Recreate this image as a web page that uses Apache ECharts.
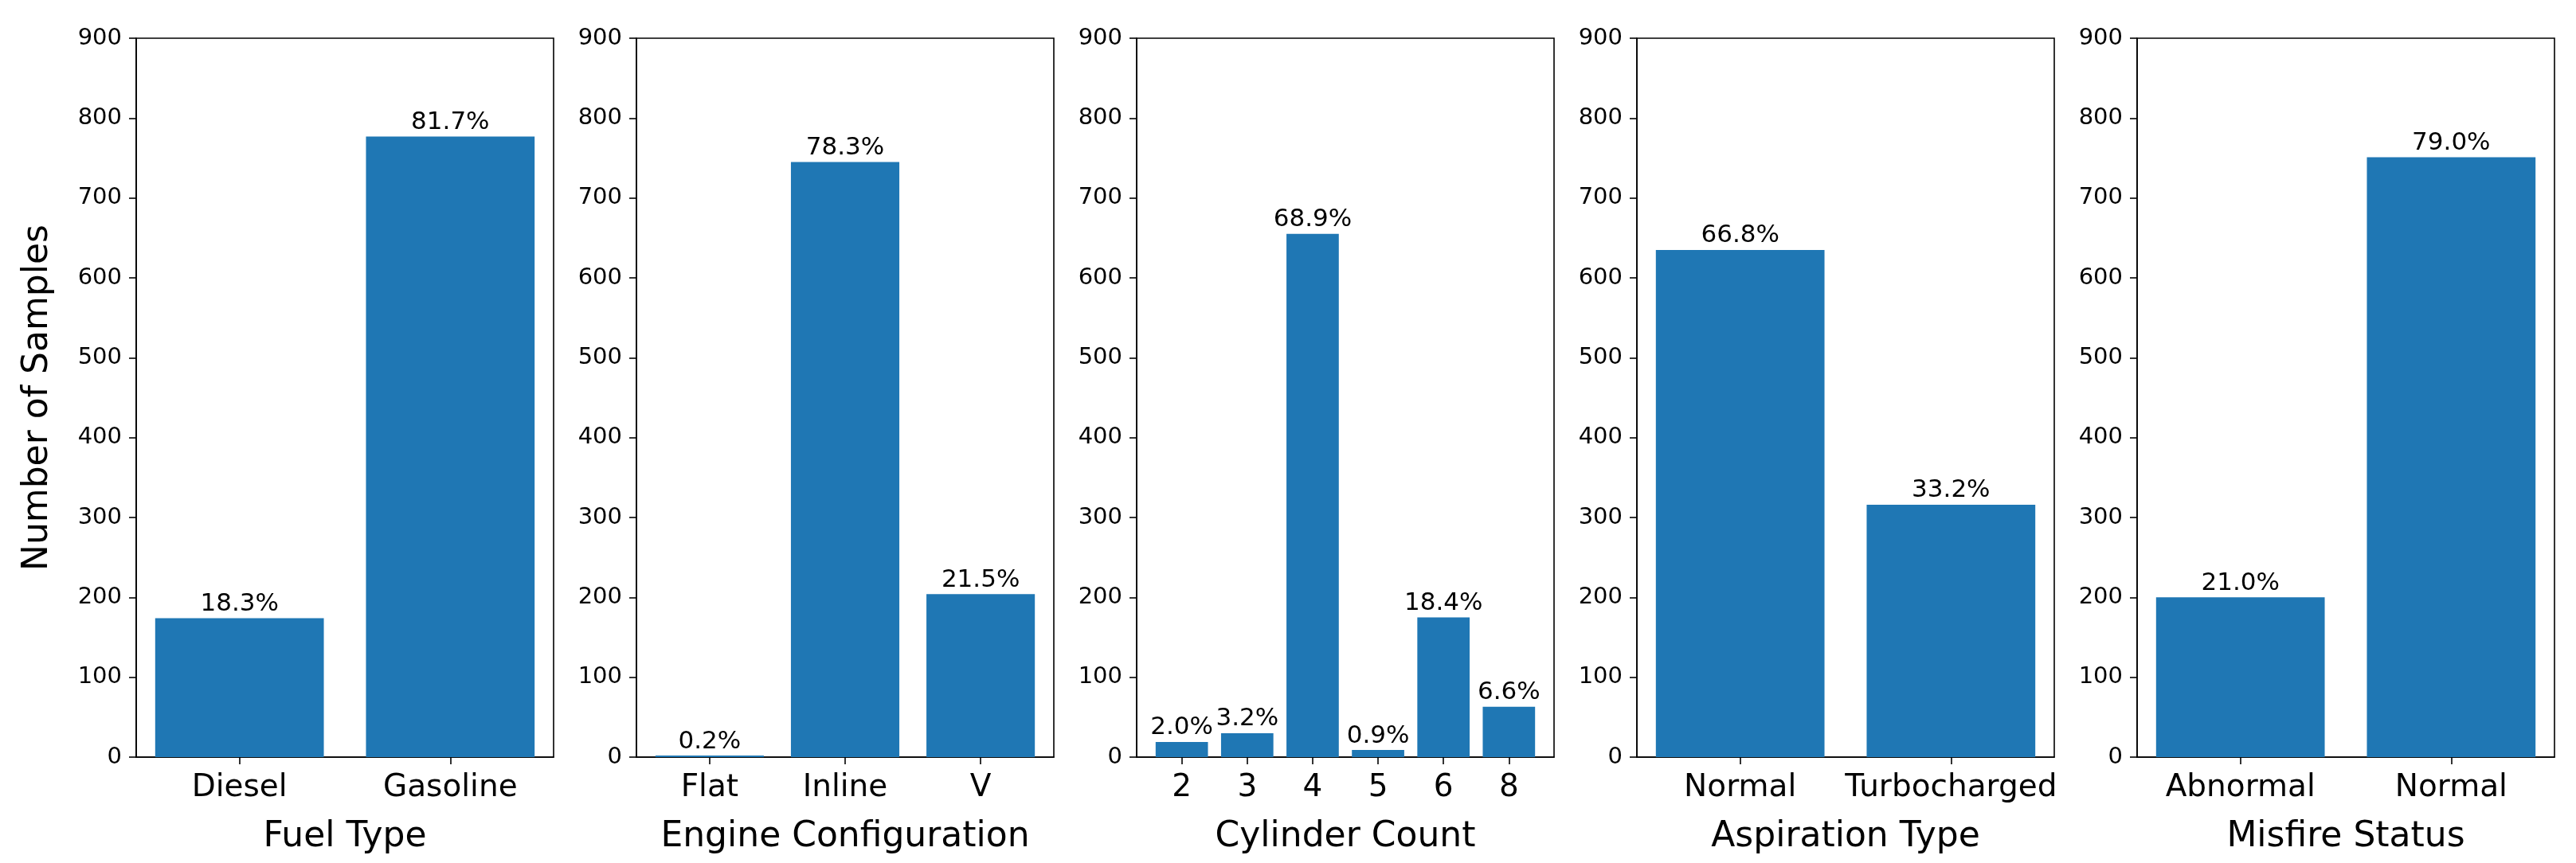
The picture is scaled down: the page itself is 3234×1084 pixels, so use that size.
<!DOCTYPE html>
<html>
<head>
<meta charset="utf-8">
<script src="https://cdn.jsdelivr.net/npm/echarts@6/dist/echarts.min.js"></script>
<style>
  html, body { margin: 0; padding: 0; background: #fff; }
  #chart { width: 3234px; height: 1084px; }
</style>
</head>
<body>
<div id="chart"></div>
<script>
// ---- Data ----
const fuelCats = ['Diesel', 'Gasoline'];
const fuelVals = [174, 777];

const engineCats = ['Flat', 'Inline', 'V'];
const engineVals = [2, 745, 204];

const cylCats = ['2', '3', '4', '5', '6', '8'];
const cylVals = [19, 30, 655, 9, 175, 63];

const aspCats = ['Normal', 'Turbocharged'];
const aspVals = [635, 316];

const misCats = ['Abnormal', 'Normal'];
const misVals = [200, 751];

const panelNames = ['Fuel Type', 'Engine Configuration', 'Cylinder Count', 'Aspiration Type', 'Misfire Status'];
const yTicks = [0, 100, 200, 300, 400, 500, 600, 700, 800, 900];
const yAxisName = 'Number of Samples';

// ---- Build ----
const panels = [
  [fuelCats, fuelVals],
  [engineCats, engineVals],
  [cylCats, cylVals],
  [aspCats, aspVals],
  [misCats, misVals]
];

const FONT = 'DejaVu Sans';
const GRID_LEFT0 = 171, GRID_STEP = 628, GRID_W = 524, GRID_TOP = 48, GRID_H = 903;

const grids = [], xAxes = [], yAxes = [], series = [];
panels.forEach((p, i) => {
  const cats = p[0], vals = p[1];
  const n = cats.length;
  const r = n - 0.2;
  const xmin = -0.4 - 0.05 * r;
  const xmax = n - 1 + 0.4 + 0.05 * r;
  const total = vals.reduce((a, b) => a + b, 0);
  const idx = cats.map((c, k) => k);
  const barW = 0.8 * GRID_W / (xmax - xmin);

  grids.push({
    left: GRID_LEFT0 + i * GRID_STEP, top: GRID_TOP, width: GRID_W, height: GRID_H,
    show: true, borderColor: '#000', borderWidth: 1.6, backgroundColor: 'transparent'
  });
  xAxes.push({
    type: 'value', gridIndex: i, min: xmin, max: xmax,
    name: panelNames[i], nameLocation: 'middle', nameGap: 79,
    nameTextStyle: { fontSize: 44, fontFamily: FONT, color: '#000' },
    axisLine: { show: true, onZero: false, lineStyle: { color: '#000', width: 1.6 } },
    axisTick: { show: true, length: 9, customValues: idx, lineStyle: { color: '#000', width: 1.6 } },
    axisLabel: {
      show: true, customValues: idx, margin: 19,
      fontSize: 39, fontFamily: FONT, color: '#000',
      formatter: v => cats[Math.round(v)]
    },
    splitLine: { show: false }
  });
  yAxes.push({
    type: 'value', gridIndex: i, min: 0, max: 900, interval: 100,
    name: i === 0 ? yAxisName : '', nameLocation: 'middle', nameGap: 101,
    nameTextStyle: { fontSize: 44, fontFamily: FONT, color: '#000' },
    axisLine: { show: true, onZero: false, lineStyle: { color: '#000', width: 1.6 } },
    axisTick: { show: true, length: 9, lineStyle: { color: '#000', width: 1.6 } },
    axisLabel: { show: true, margin: 18, fontSize: 29, fontFamily: FONT, color: '#000',
      formatter: v => (yTicks.indexOf(v) >= 0 ? String(v) : '') },
    splitLine: { show: false }
  });
  series.push({
    type: 'bar', xAxisIndex: i, yAxisIndex: i,
    barWidth: barW,
    data: vals.map((v, k) => [k, v]),
    itemStyle: { color: '#1f77b4' },
    label: {
      show: true, position: 'top', distance: 2,
      fontSize: 31, fontFamily: FONT, color: '#000',
      formatter: prm => (prm.value[1] / total * 100).toFixed(1) + '%'
    },
    animation: false
  });
});

const chart = echarts.init(document.getElementById('chart'), null, { renderer: 'canvas' });
chart.setOption({
  backgroundColor: '#fff',
  animation: false,
  grid: grids,
  xAxis: xAxes,
  yAxis: yAxes,
  series: series
});
</script>
</body>
</html>
